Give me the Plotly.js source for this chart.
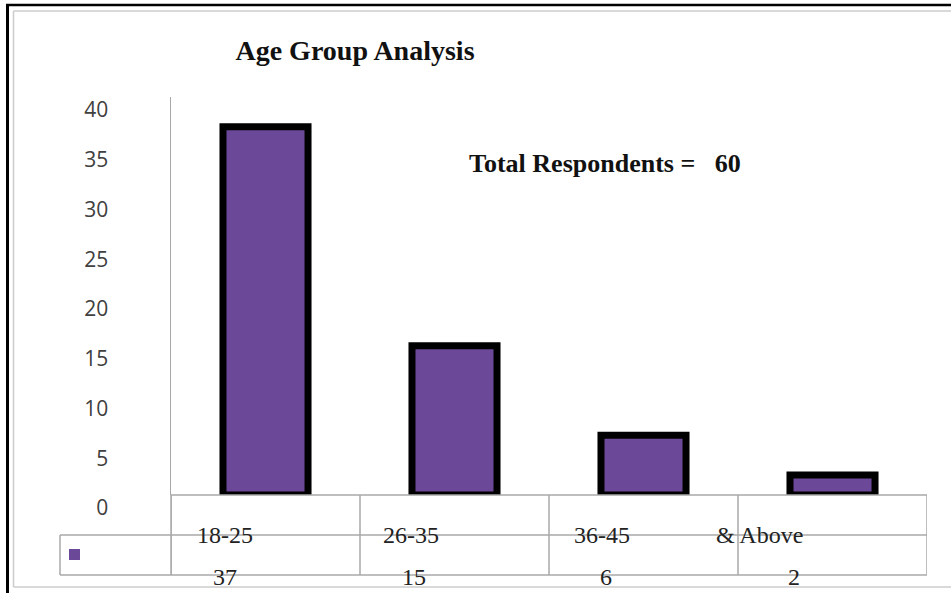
<!DOCTYPE html>
<html>
<head>
<meta charset="utf-8">
<script src="https://cdn.plot.ly/plotly-3.0.1.min.js"></script>
<style>
  html, body { margin: 0; padding: 0; background: #ffffff; }
  #chart { width: 951px; height: 593px; }
</style>
</head>
<body>
<div id="chart"></div>
<script>
// Age group survey results
const categories = ['18-25', '26-35', '36-45', '& Above'];
const respondents = [37, 15, 6, 2];
const totalRespondents = 60;
const yTickValues = [0, 5, 10, 15, 20, 25, 30, 35, 40];

// Page geometry (pixels)
const W = 951, H = 593;
const M = { l: 171, r: 24, t: 97, b: 98 };
const plotW = W - M.l - M.r;
const plotH = H - M.t - M.b;
const px = X => (X - M.l) / plotW;          // pixel x -> paper x
const py = Y => (H - M.b - Y) / plotH;      // pixel y -> paper y

const barColor = '#6c4898';
const gridGray = '#a8a8a8';
const serif = '"Liberation Serif", "Times New Roman", serif';

const bars = {
  type: 'bar',
  x: categories.map((_, i) => i),
  y: respondents,
  width: 0.45,
  marker: { color: barColor, line: { color: '#000000', width: 7 } },
  hoverinfo: 'skip',
  showlegend: false
};

// Data table lines under the plot
const line = (x0, y0, x1, y1, color, width) => ({
  type: 'line', xref: 'paper', yref: 'paper',
  x0: px(x0), y0: py(y0), x1: px(x1), y1: py(y1),
  line: { color: color, width: width }
});

const rowTop = 495, rowMid = 535, rowBot = 575;
const shapes = [
  // outer frame
  line(7.5, 5, 7.5, H, '#000000', 3),
  line(6, 5, W, 5, '#000000', 2.5),
  line(13.5, 11, 13.5, 587, '#cccccc', 1.5),
  line(13.5, 11, W, 11, '#cccccc', 1.5),
  line(13.5, 587, W, 587, '#cccccc', 1.5),
  // table grid
  line(171, rowTop, 927, rowTop, gridGray, 1.5),
  line(60, rowMid, 927, rowMid, gridGray, 1.5),
  line(60, rowBot, 927, rowBot, gridGray, 1.5),
  line(60, rowMid, 60, rowBot, gridGray, 1.5),
  line(171, rowTop, 171, rowBot, gridGray, 1.5)
];
// column separators follow the category bands of the x axis
for (let i = 0; i <= categories.length; i++) {
  shapes.push({
    type: 'line', xref: 'x', yref: 'paper',
    x0: i - 0.5, x1: i - 0.5,
    y0: py(rowTop), y1: py(rowBot),
    line: { color: gridGray, width: 1.5 }
  });
}
// legend key
shapes.push({
  type: 'rect', xref: 'paper', yref: 'paper',
  x0: px(69), x1: px(80), y0: py(549), y1: py(560),
  fillcolor: barColor, line: { width: 0 }
});

const labelShift = [-41, -44, -42, -73];
const valueShift = [-41, -41, -38, -39];
const annotations = [];
categories.forEach((c, i) => {
  annotations.push({
    xref: 'x', yref: 'paper', x: i, y: py(rowMid), xshift: labelShift[i],
    text: c, showarrow: false, xanchor: 'center', yanchor: 'middle',
    font: { family: serif, size: 24, color: '#222222' }
  });
  annotations.push({
    xref: 'x', yref: 'paper', x: i, y: py(577), xshift: valueShift[i],
    text: String(respondents[i]), showarrow: false, xanchor: 'center', yanchor: 'middle',
    font: { family: serif, size: 24, color: '#222222' }
  });
});
annotations.push({
  xref: 'paper', yref: 'paper', x: px(605), y: py(163),
  text: 'Total Respondents =   ' + totalRespondents,
  showarrow: false, xanchor: 'center', yanchor: 'middle',
  font: { family: serif, size: 26, color: '#111111', weight: 'bold' }
});

const layout = {
  width: W, height: H,
  margin: { l: M.l, r: M.r, t: M.t, b: M.b, pad: 0 },
  paper_bgcolor: '#ffffff', plot_bgcolor: '#ffffff',
  title: {
    text: '<b>Age Group Analysis</b>',
    x: 355 / W, y: 1 - 50 / H, xanchor: 'center', yanchor: 'middle',
    xref: 'container', yref: 'container',
    font: { family: serif, size: 28, color: '#111111' }
  },
  xaxis: {
    range: [-0.5, categories.length - 0.5],
    showticklabels: false, showgrid: false, zeroline: false, showline: false, ticks: ''
  },
  yaxis: {
    range: [0, 40], tickvals: yTickValues,
    showgrid: false, zeroline: false,
    showline: true, linecolor: gridGray, linewidth: 1.5,
    ticks: '', ticklabelstandoff: 57, ticklabelshift: 13,
    tickfont: { family: '"Open Sans", sans-serif', size: 21, color: '#404040' }
  },
  shapes: shapes,
  annotations: annotations,
  showlegend: false
};

Plotly.newPlot('chart', [bars], layout, { staticPlot: true, displayModeBar: false });
</script>
</body>
</html>
